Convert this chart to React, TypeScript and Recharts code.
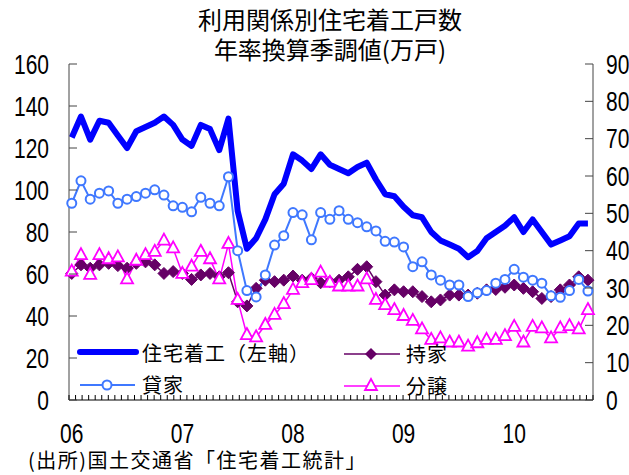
import React from 'react';
import { ComposedChart, Line, XAxis, YAxis } from 'recharts';

// monthly, Jan 2006 .. Sep 2010
const yearLabels = ['06', '07', '08', '09', '10'];
const yearTickIndex = [0, 12, 24, 36, 48];
const leftTicks = [0, 20, 40, 60, 80, 100, 120, 140, 160];
const rightTicks = [0, 10, 20, 30, 40, 50, 60, 70, 80, 90];

// 住宅着工 (left axis, 万戸)
const starts = [125, 135, 124, 133, 132, 126, 120, 128, 130, 132, 135, 131, 124, 121, 131, 129, 119, 134, 90, 72,
  77, 86, 98, 103, 117, 114, 110, 117, 112, 110, 108, 111, 113, 105, 98, 97, 92, 88, 87, 80,
  76, 74, 72, 68, 71, 77, 80, 83, 87, 80, 86, 80, 74, 76, 78, 84, 84];
// 貸家 (right axis)
const rental = [52.7, 58.7, 53.8, 55.4, 56, 52.7, 53.8, 54.5, 55.4, 56.3, 54.9, 52, 51.6, 50.4, 54.3, 52.7, 52, 59.8, 40, 29.3,
  27.6, 33.5, 41.5, 44, 50.2, 49.6, 42.9, 50.2, 48.4, 50.7, 48.4, 47.5, 46.4, 45.3, 42.5, 42.3, 41, 35.7, 37, 33.5,
  32.1, 30.8, 30.8, 27.7, 28.7, 29.3, 31.3, 32.3, 35, 32.9, 32.1, 31.3, 27.9, 27.5, 29.3, 32.3, 29.2];
// 持家 (right axis)
const owned = [33.9, 36.2, 35.3, 36.2, 36.6, 36, 35.3, 36.6, 37, 36.2, 33.9, 34.4, 33.9, 32.3, 33.5, 33.9, 33, 34.1, 26.3, 25.2,
  29.9, 32.1, 31.7, 32.1, 33.2, 32.1, 32.6, 31.4, 31.7, 32.1, 33, 35, 35.7, 31.7, 28.1, 29.5, 29, 29, 27.7, 26.3,
  26.8, 28.1, 28.1, 28.1, 28.6, 29.5, 29.6, 30.2, 30.8, 29.9, 29, 27.2, 27.7, 29.5, 30.8, 33, 32.1];
// 分譲 (right axis)
const forSale = [34.4, 38.8, 33.5, 38.8, 37.7, 38.2, 32.3, 37.3, 38.8, 39.7, 42.7, 40.6, 33.8, 35.7, 39.7, 37.7, 32.3, 41.8, 26.8, 17.4,
  16.8, 20.1, 22.8, 25.7, 29.5, 31.3, 32.1, 34.1, 31.4, 30.4, 30.4, 30.4, 32.3, 26.8, 25.4, 24.1, 22.5, 21.2, 18.9, 16.1,
  16.5, 15.4, 15.4, 14.3, 15.2, 16.1, 16.1, 17.1, 19.6, 15.4, 19.6, 19.2, 16.5, 19.2, 19.8, 18.9, 24.1];

const data = starts.map((v, i) => ({ i, starts: v, rental: rental[i], owned: owned[i], forSale: forSale[i] }));

const xMin = -0.3;
const xMax = 56.55;
const minorTicks = Array.from({ length: 81 }, (_, k) => +(xMin + (k * (xMax - xMin)) / 80).toFixed(4));
const xTicks = [...minorTicks, ...yearTickIndex];

const BLUE = '#0000FF';
const LIGHT = '#3F78FF';
const PURPLE = '#660066';
const PINK = '#FF00FF';
const AXIS = '#444';
const numFont = '"Liberation Sans", Arial, sans-serif';
const jpFont = '"Noto Sans CJK JP", "Noto Sans", sans-serif';

// condensed digits like the original narrow font
const Num = ({ x, y, anchor, children }: any) => (
  <text
    transform={`translate(${x},${y}) scale(0.75,1)`}
    textAnchor={anchor}
    dominantBaseline="central"
    fontFamily={numFont}
    fontSize={28}
    fill="#000"
  >
    {children}
  </text>
);

const LeftTick = (p: any) => (
  <g>
    <line x1={p.x} y1={p.y} x2={p.x + 8} y2={p.y} stroke={AXIS} />
    <Num x={p.x - 20} y={p.y} anchor="end">{p.payload.value}</Num>
  </g>
);

const RightTick = (p: any) => (
  <g>
    <line x1={p.x} y1={p.y} x2={p.x - 8} y2={p.y} stroke={AXIS} />
    <Num x={p.x + 13} y={p.y} anchor="start">{p.payload.value}</Num>
  </g>
);

const XTick = (p: any) => {
  const k = yearTickIndex.indexOf(p.payload.value);
  if (k >= 0) {
    return <Num x={p.x} y={p.y + 33} anchor="middle">{yearLabels[k]}</Num>;
  }
  return <line x1={p.x} y1={p.y} x2={p.x} y2={p.y - 5} stroke="#000" />;
};

const circleDot = (p: any) => (
  <circle key={`c-${p.index}`} cx={p.cx} cy={p.cy} r={4.5} fill="#fff" stroke={LIGHT} strokeWidth={2} />
);
const diamondDot = (p: any) => (
  <path key={`d-${p.index}`} d={`M${p.cx} ${p.cy - 6}L${p.cx + 6} ${p.cy}L${p.cx} ${p.cy + 6}L${p.cx - 6} ${p.cy}Z`} fill={PURPLE} stroke={PURPLE} />
);
const triangleDot = (p: any) => (
  <path key={`t-${p.index}`} d={`M${p.cx} ${p.cy - 7}L${p.cx + 6} ${p.cy + 4}L${p.cx - 6} ${p.cy + 4}Z`} fill="#fff" stroke={PINK} strokeWidth={1.8} />
);

const Overlay = () => (
  <svg width={629} height={475} style={{ position: 'absolute', left: 0, top: 0, pointerEvents: 'none' }}>
    <g fontFamily={jpFont} fill="#000">
      <text textAnchor="middle" fontSize={24}>
        <tspan x={330} y={29}>利用関係別住宅着工戸数</tspan>
        <tspan x={330} y={59}>年率換算季調値(万戸)</tspan>
      </text>
      <text x={28} y={468} fontSize={20} letterSpacing={1.5}>(出所)国土交通省「住宅着工統計」</text>
    </g>
    {/* legend */}
    <g fontFamily={jpFont} fontSize={20} fill="#000" letterSpacing={1}>
      <line x1={80} y1={352} x2={136} y2={352} stroke={BLUE} strokeWidth={6} strokeLinecap="round" />
      <text x={142} y={361}>住宅着工（左軸）</text>
      <line x1={80} y1={385} x2={135} y2={385} stroke={LIGHT} strokeWidth={2} />
      <circle cx={107} cy={385} r={4.5} fill="#fff" stroke={LIGHT} strokeWidth={2} />
      <text x={142} y={393}>貸家</text>
      <line x1={344} y1={354} x2={400} y2={354} stroke={PURPLE} strokeWidth={1.5} />
      <path d="M371 348L377 354L371 360L365 354Z" fill={PURPLE} />
      <text x={406} y={362}>持家</text>
      <line x1={344} y1={386} x2={400} y2={386} stroke={PINK} strokeWidth={1.5} />
      <path d="M371 379L377 390L365 390Z" fill="#fff" stroke={PINK} strokeWidth={1.8} />
      <text x={406} y={394}>分譲</text>
    </g>
  </svg>
);

export default function App() {
  return (
    <div style={{ position: 'absolute', left: 0, top: 0, width: 629, height: 475, background: '#fff', overflow: 'hidden' }}>
      <ComposedChart width={629} height={475} data={data} margin={{ top: 64, right: 0, bottom: 0, left: 0 }}>
        <XAxis
          dataKey="i"
          type="number"
          domain={[xMin, xMax]}
          ticks={xTicks}
          interval={0}
          height={75}
          tickSize={0}
          tickMargin={0}
          tickLine={false}
          tick={XTick}
          axisLine={{ stroke: '#000' }}
        />
        <YAxis
          yAxisId="left"
          orientation="left"
          width={69}
          domain={[0, 160]}
          ticks={leftTicks}
          interval={0}
          tickSize={0}
          tickMargin={0}
          tickLine={false}
          tick={LeftTick}
          axisLine={{ stroke: AXIS }}
        />
        <YAxis
          yAxisId="right"
          orientation="right"
          width={36}
          domain={[0, 90]}
          ticks={rightTicks}
          interval={0}
          tickSize={0}
          tickMargin={0}
          tickLine={false}
          tick={RightTick}
          axisLine={{ stroke: AXIS }}
        />
        <Line yAxisId="right" dataKey="owned" stroke={PURPLE} strokeWidth={1.5} dot={diamondDot} activeDot={false} isAnimationActive={false} />
        <Line yAxisId="right" dataKey="forSale" stroke={PINK} strokeWidth={1.5} dot={triangleDot} activeDot={false} isAnimationActive={false} />
        <Line yAxisId="right" dataKey="rental" stroke={LIGHT} strokeWidth={2} dot={circleDot} activeDot={false} isAnimationActive={false} />
        <Line yAxisId="left" dataKey="starts" stroke={BLUE} strokeWidth={6} strokeLinejoin="round" dot={false} activeDot={false} isAnimationActive={false} />
      </ComposedChart>
      <Overlay />
    </div>
  );
}
